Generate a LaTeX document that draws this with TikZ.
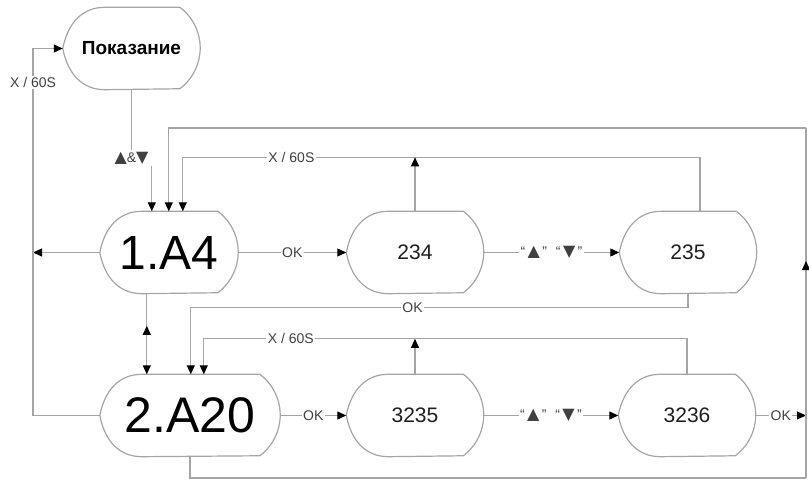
\documentclass[tikz,border=0pt]{standalone}
\usepackage{fontspec}
\setmainfont{Liberation Sans}
\newfontfamily\symfont{DejaVu Sans}
\usetikzlibrary{arrows.meta,calc,decorations.markings}
\definecolor{graphite}{RGB}{165,165,165}
\definecolor{ink}{RGB}{30,30,30}
\newcommand\tup{{\symfont\fontsize{16}{14}\selectfont ▲}}
\newcommand\tdn{{\symfont\fontsize{16}{14}\selectfont ▼}}
% outline of a display-shaped state around a named node
\newcommand\dispframe[1]{%
  \draw[graphite,line width=1.2pt,line join=round] (#1.west) .. controls +(5,26) and +(-22,0) .. ($(#1.north west)+(42,0)$)
    -- ($(#1.north east)+(-20.3,0)$) arc[start angle=53,end angle=-53,radius=51pt]
    -- ($(#1.south west)+(42,0)$) .. controls +(-22,0) and +(5,-26) .. (#1.west) -- cycle;}
\tikzset{
  >={Triangle[length=9pt,width=8pt,color=black]},
  disp/.style={minimum width=#1,minimum height=82pt,inner sep=0pt,text=ink},
  disp/.default=137pt,
  wire/.style={draw=graphite,line width=1.1pt},
  flow/.style={wire,->},
  tag/.style={fill=white,inner sep=1.5pt,font=\fontsize{14}{14}\selectfont,text=ink!85},
  uptip/.style={postaction={decorate},decoration={markings,mark=at position #1 with {\arrow{>}}}},
  backtip/.style={postaction={decorate},decoration={markings,mark=at position #1 with {\arrow{<}}}},
}
\begin{document}
\begin{tikzpicture}[x=1pt,y=1pt]
  \useasboundingbox (0,0) rectangle (809,483);
  % states
  \node[disp,font=\bfseries\fontsize{19}{19}\selectfont,text=black] (pok) at (131.5,434.5) {Показание};
  \node[disp=138pt,font=\fontsize{48}{48}\selectfont,text=black] (a4) at (169,230.5) {1.A4};
  \node[disp=180pt,font=\fontsize{50}{50}\selectfont,text=black] (a20) at (190,67.5) {2.A20};
  \foreach \n/\x/\y/\t in {n234/415/230.5/234,n235/688/230.5/235,n3235/415/67.5/3235,n3236/687/67.5/3236}
    \node[disp,font=\fontsize{21}{21}\selectfont] (\n) at (\x,\y) {\t};
  \foreach \n in {pok,a4,a20,n234,n235,n3235,n3236} \dispframe{\n};
  % entry points on the tops of 1.A4 and 2.A20
  \coordinate (in1) at ($(a4.north west)+(52,0)$);
  \coordinate (in2) at ($(a4.north west)+(69,0)$);
  \coordinate (in3) at ($(a4.north west)+(83,0)$);
  \coordinate (e1) at ($(a20.north west)+(47,0)$);
  \coordinate (e2) at ($(a20.north west)+(91,0)$);
  \coordinate (e3) at ($(a20.north west)+(104,0)$);
  \coordinate (lft) at (33,434.5);
  \coordinate (br) at (806,5);
  \coordinate (tr) at (806,355);
  % from the reading
  \path (pok.south) ++(0,-68.5) node[tag,fill=none] (amp) {\tup\&\tdn};
  \draw[wire] (pok.south) -- (amp.north);
  \draw[flow] (amp.south east -| in1) -- (in1);
  % rows
  \draw[flow] (a4) -- node[tag] {OK} (n234);
  \draw[flow] (n234) -- node[tag] {“\,\tup\,”\hspace{9pt}“\,\tdn\,”} (n235);
  \draw[flow] (a20) -- node[tag] {OK} (n3235);
  \draw[flow] (n3235) -- node[tag] {“\,\tup\,”\hspace{9pt}“\,\tdn\,”} (n3236);
  \draw[flow] (n3236) -- node[tag] {OK} (n3236 -| br);
  % left side
  \draw[flow] (a4) -- (a4 -| lft);
  \draw[flow] (a20) -| node[tag,pos=0.954] {X / 60S} (lft) -- (pok);
  \draw[flow,backtip=0.51] (e1 |- a4.south) -- (e1);
  % outer loop
  \draw[wire] (a20.south) |- (br);
  \draw[wire,uptip=0.62] (br) -- (tr);
  \draw[flow] (tr) -| (in2);
  % time-outs and OK back
  \draw[flow] ([xshift=12pt]n235.north) -- ++(0,54) coordinate (r1) -| node[tag,pos=0.395] {X / 60S} (in3);
  \draw[flow] (n234.north) -- (n234.north |- r1);
  \draw[flow] (n3236.north) -- ++(0,35.5) coordinate (r2) -| node[tag,pos=0.41] {X / 60S} (e3);
  \draw[flow] (n3235.north) -- (n3235.north |- r2);
  \draw[flow] (n235.south) -- ++(0,-13.5) -| node[tag,pos=0.277] {OK} (e2);
\end{tikzpicture}
\end{document}
